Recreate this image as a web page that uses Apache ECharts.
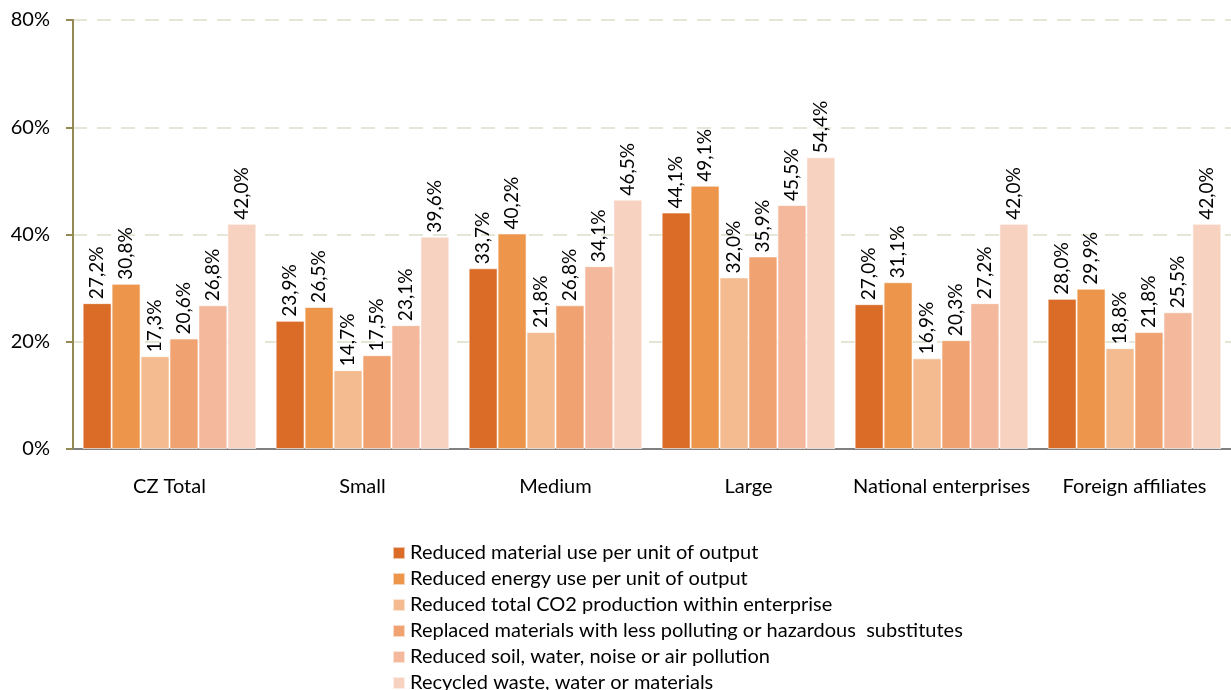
<!DOCTYPE html>
<html><head><meta charset="utf-8">
<script src="https://cdn.jsdelivr.net/npm/echarts@6/dist/echarts.min.js"></script>
<style>html,body{margin:0;padding:0;background:#fff}#c{width:1231px;height:690px}</style>
</head><body><div id="c"></div>
<script>
const categories = ['CZ Total','Small','Medium','Large','National enterprises','Foreign affiliates'];
const seriesNames = [
  'Reduced material use per unit of output',
  'Reduced energy use per unit of output',
  'Reduced total CO2 production within enterprise',
  'Replaced materials with less polluting or hazardous  substitutes',
  'Reduced soil, water, noise or air pollution',
  'Recycled waste, water or materials'
];
const materialUse = [27.2, 23.9, 33.7, 44.1, 27.0, 28.0];
const energyUse   = [30.8, 26.5, 40.2, 49.1, 31.1, 29.9];
const co2         = [17.3, 14.7, 21.8, 32.0, 16.9, 18.8];
const replaced    = [20.6, 17.5, 26.8, 35.9, 20.3, 21.8];
const pollution   = [26.8, 23.1, 34.1, 45.5, 27.2, 25.5];
const recycled    = [42.0, 39.6, 46.5, 54.4, 42.0, 42.0];
const yTicks = [0, 20, 40, 60, 80];
const colors = ['#DA6C27','#EC954B','#F3BB8F','#F0A370','#F4B99C','#F7D2C0'];
const allData = [materialUse, energyUse, co2, replaced, pollution, recycled];
const FONT = 'Lato';
const chart = echarts.init(document.getElementById('c'));
chart.setOption({
  animation: false,
  textStyle: {fontFamily: FONT},
  grid: {left: 73, top: 20, width: 1164, height: 429, containLabel: false},
  legend: {
    orient: 'vertical', left: 387, top: 538, height: 400,
    itemWidth: 12, itemHeight: 12, itemGap: 6,
    icon: 'rect',
    textStyle: {fontFamily: FONT, fontSize: 20, color: '#000'},
    data: seriesNames
  },
  xAxis: {
    type: 'category', data: categories,
    axisLine: {lineStyle: {color: '#808080', width: 2}},
    axisTick: {show: false},
    axisLabel: {fontFamily: FONT, fontSize: 20, color: '#000', margin: 28, interval: 0}
  },
  yAxis: {
    type: 'value', min: 0, max: 80, interval: 20,
    axisLine: {show: true, lineStyle: {color: '#948A54', width: 2}},
    axisTick: {show: true, length: 7, lineStyle: {color: '#948A54', width: 2}},
    axisLabel: {fontFamily: FONT, fontSize: 20, color: '#000', margin: 23,
      formatter: v => yTicks.includes(v) ? v + '%' : ''},
    splitLine: {lineStyle: {color: '#E6E6D6', type: [14, 10], width: 2}}
  },
  series: allData.map((d, i) => ({
    name: seriesNames[i], type: 'bar', data: d,
    barGap: '0%', barCategoryGap: '10%',
    itemStyle: {color: colors[i], borderColor: 'rgba(255,255,255,0.6)', borderWidth: 1},
    label: {
      show: true, position: 'top', rotate: 90, align: 'left', verticalAlign: 'middle',
      distance: 4, fontFamily: FONT, fontSize: 19, color: '#000',
      formatter: p => p.value.toFixed(1).replace('.', ',') + '%'
    }
  }))
});
</script></body></html>
